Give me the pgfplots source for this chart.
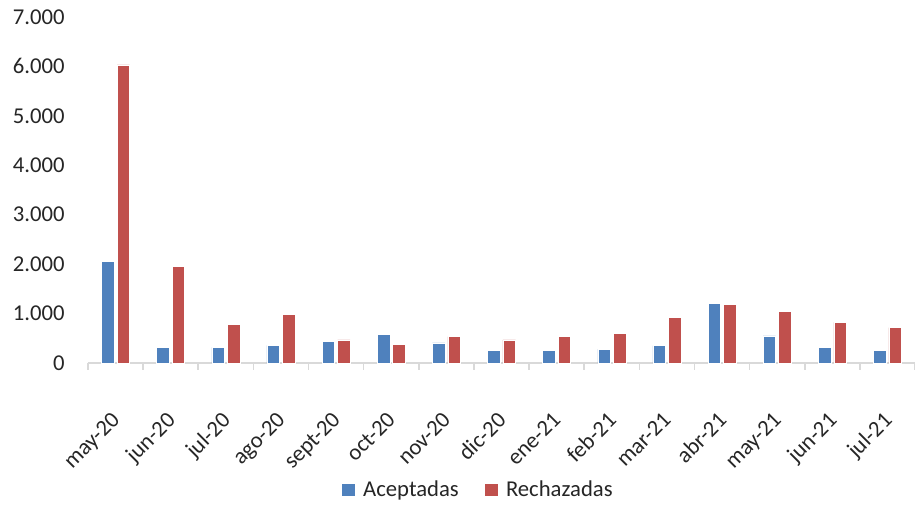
\documentclass[border=0pt]{standalone}
\usepackage{fontspec}
\setmainfont{Carlito}
\usepackage{pgfplots}
\pgfplotsset{compat=1.18}
\definecolor{acep}{HTML}{4F81BD}
\definecolor{rech}{HTML}{C0504D}
\definecolor{axgray}{HTML}{D9D9D9}
\definecolor{txt}{HTML}{262626}
\begin{document}
\begin{tikzpicture}
\begin{axis}[
  name=ax,
  scale only axis,
  width=620.25pt, height=259.5pt,
  ybar, bar width=9.4pt,
  xmin=-0.5, xmax=14.5,
  ymin=0, ymax=7000,
  ytick={0,1000,...,7000},
  scaled y ticks=false,
  /pgf/number format/.cd, 1000 sep={.}, assume math mode=true,
  /pgfplots/.cd,
  xtick={0,...,14},
  xticklabels={may-20,jun-20,jul-20,ago-20,sept-20,oct-20,nov-20,dic-20,ene-21,feb-21,mar-21,abr-21,may-21,jun-21,jul-21},
  minor xtick={-0.5,0.5,...,14.5},
  major x tick style={draw=none},
  minor x tick style={draw=axgray, line width=1.2pt},
  major tick length=0pt,
  minor tick length=5pt,
  tick align=outside,
  axis x line*=bottom,
  axis y line*=left,
  x axis line style={draw=axgray, line width=1.2pt, -},
  y axis line style={draw=none},
  ytick style={draw=none},
  tick label style={font=\fontsize{17}{20}\selectfont, text=txt},
  xticklabel style={xshift=-4pt, yshift=-35.5pt, rotate=45, anchor=north east, inner sep=0pt},
  yticklabel style={xshift=-14pt},
  legend style={draw=none, at={(0.472,-0.367)}, anchor=center, legend columns=2,
    font=\fontsize{17}{20}\selectfont, text=txt,
    /tikz/every odd column/.append style={column sep=4pt},
    /tikz/every even column/.append style={column sep=17pt}},
  legend image code/.code={\fill[#1] (0pt,-5pt) rectangle (10pt,5pt);},
  clip=false,
]
\addplot[ybar, bar shift=-5.8pt, fill=acep, draw=white, line width=0.4pt] coordinates {
(0,2053) (1,318) (2,318) (3,358) (4,445) (5,580) (6,405) (7,250) (8,257) (9,283) (10,351) (11,1208) (12,547) (13,310) (14,250)};
\addplot[ybar, bar shift=5.8pt, fill=rech, draw=white, line width=0.4pt] coordinates {
(0,6030) (1,1950) (2,783) (3,985) (4,466) (5,371) (6,533) (7,466) (8,540) (9,594) (10,918) (11,1188) (12,1039) (13,823) (14,715)};
\legend{Aceptadas,Rechazadas}
\end{axis}
\pgfresetboundingbox
\path ([shift={(-66pt,-105.75pt)}]ax.south west) rectangle ++(686.25pt,378pt);
\end{tikzpicture}
\end{document}
